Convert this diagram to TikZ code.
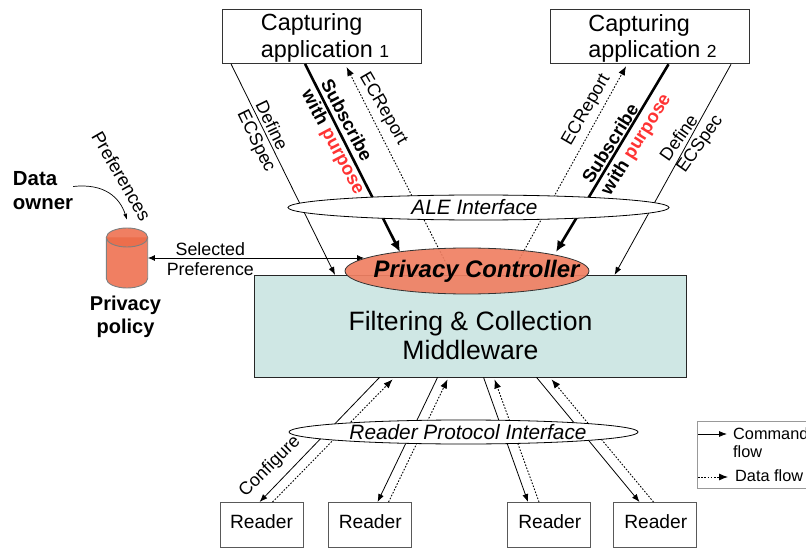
\documentclass[tikz,border=0pt]{standalone}
\usepackage{fontspec}
\setmainfont{Liberation Sans}
\usepackage{tikz}
\usetikzlibrary{arrows.meta,shapes.geometric}

\definecolor{mwfill}{HTML}{CFE7E4}
\definecolor{salmon}{HTML}{F07F62}
\definecolor{salmontop}{HTML}{EC6E4C}
\definecolor{purposered}{HTML}{FF3333}
\newcommand{\fsize}[1]{\fontsize{#1}{#1}\selectfont}

\tikzset{
  appbox/.style={draw=black!80,line width=.9pt,minimum width=199pt,inner xsep=0pt,inner ysep=0pt,minimum height=54pt,align=left,font=\fsize{23.4}},
  readerbox/.style={draw=black!65,line width=.9pt,minimum width=83pt,minimum height=45pt,inner sep=0pt,font=\fsize{19.2},text height=14pt,text depth=8pt},
  iface/.style={ellipse,draw,fill=white,line width=.8pt,inner sep=0pt,font=\itshape\fsize{20.8}},
  lab/.style={align=left,inner sep=0pt,font=\fsize{18}},
  sub/.style={align=left,inner sep=0pt,font=\bfseries\fsize{18.5}},
  cmdflow/.style={line width=.8pt,-{Latex[length=8pt,width=6pt]}},
  dataflow/.style={line width=.9pt,dash pattern=on 1.6pt off 1.6pt,-{Latex[length=9pt,width=7pt]}},
  subflow/.style={line width=2.6pt,-{Latex[length=11pt,width=10pt]}},
}

\begin{document}
\begin{tikzpicture}[x=1pt,y=-1pt]
\clip (0,0) rectangle (806,548);

% boxes
\node[draw=black!85,line width=.9pt,fill=mwfill,minimum width=432pt,minimum height=101.5pt,inner sep=0pt,align=center,font=\fsize{26.6}] (filter) at (470.5,326.2) {\rule{0pt}{38pt}Filtering \& Collection\\[3pt]Middleware};
\node[appbox] (app1) at (322,36.5) {\rule{0pt}{20pt}\hspace*{6pt}Capturing\\[3pt]\hspace*{6pt}application {\fsize{17.5}1}};
\node[appbox] (app2) at (650,36.8) {\rule{0pt}{20pt}\hspace*{5pt}Capturing\\[3pt]\hspace*{5pt}application {\fsize{17.5}2}};
\node[readerbox] (reader1) at (261.5,525) {Reader};
\node[readerbox] (reader2) at (369.5,525) {\hspace*{1.5pt}Reader};
\node[readerbox] (reader3) at (549,525) {\hspace*{1.5pt}Reader};
\node[readerbox] (reader4) at (655,525) {\hspace*{1.5pt}Reader};

% privacy policy
\node[minimum width=41.5pt,minimum height=60pt,inner sep=0pt] (policy) at (127,258) {};
\filldraw[fill=salmon,draw=black!50,line width=.9pt] (106.3,237.5) arc[start angle=180,end angle=0,x radius=20.7pt,y radius=9.5pt] -- (147.7,278.5) arc[start angle=0,end angle=-180,x radius=20.7pt,y radius=9.5pt] -- cycle;
\filldraw[fill=salmontop,draw=black!50,line width=.9pt] (106.3,237.5) arc[start angle=180,end angle=360,x radius=20.7pt,y radius=9.5pt];
\node[align=center,inner sep=0pt,font=\bfseries\fsize{20}] (policytext) at (125.5,317) {Privacy\\[3.5pt]policy};
\node[align=left,inner sep=0pt,font=\bfseries\fsize{20.4}] (owner) at (43,190.5) {Data\\[3pt]owner};
\node[lab,rotate=-60,font=\fsize{18.5}] (prefs) at (121.5,176) {Preferences};
\draw[line width=.7pt,-{Latex[length=6pt,width=4pt]}] ([yshift=4pt]owner.east) .. controls (105,183) and (120,198) .. ([yshift=8pt]policy.north);

% end points on the controller
\coordinate (sub1tip) at (400,252);
\coordinate (sub2tip) at (556,252);
\coordinate (rep1end) at (448,267);
\coordinate (rep2end) at (515,267);
\coordinate (seltip) at (364,258);

% upper connectors
\draw[cmdflow] ([xshift=9pt]app1.south west) -- ([xshift=81pt]filter.north west);
\draw[cmdflow] ([xshift=181pt]app2.south west) -- ([xshift=360.5pt]filter.north west);
\draw[subflow] ([xshift=83pt]app1.south west) -- (sub1tip);
\draw[subflow] ([xshift=118.5pt]app2.south west) -- (sub2tip);
\draw[dataflow] (rep1end) -- ([xshift=124.5pt,yshift=-3pt]app1.south west);
\draw[dataflow] (rep2end) -- ([xshift=76pt,yshift=-2pt]app2.south west);
\draw[line width=.8pt,{Latex[length=7pt,width=6pt]}-{Latex[length=7pt,width=6pt]}] (policy.east) -- (seltip);
\node[align=center,inner sep=0pt,font=\fsize{17.8}] (seltext) at (210.3,259) {Selected\\[2.5pt]Preference};

% lower connectors
\draw[cmdflow] ([xshift=125.5pt]filter.south west) -- ([xshift=40pt]reader1.north west);
\draw[dataflow] ([xshift=53pt]reader1.north west) -- ([xshift=138.5pt,yshift=-2pt]filter.south west);
\draw[cmdflow] ([xshift=183.5pt]filter.south west) -- ([xshift=50pt]reader2.north west);
\draw[dataflow] ([xshift=61pt]reader2.north west) -- ([xshift=193.5pt,yshift=-2pt]filter.south west);
\draw[cmdflow] ([xshift=229.5pt]filter.south west) -- ([xshift=21pt]reader3.north west);
\draw[dataflow] ([xshift=32pt]reader3.north west) -- ([xshift=240.5pt,yshift=-2pt]filter.south west);
\draw[cmdflow] ([xshift=282.5pt]filter.south west) -- ([xshift=26.5pt]reader4.north west);
\draw[dataflow] ([xshift=40.5pt]reader4.north west) -- ([xshift=297.5pt,yshift=-2pt]filter.south west);

% ellipses
\node[ellipse,draw=black!80,line width=.8pt,fill=salmon,fill opacity=.92,minimum width=244pt,minimum height=46pt,inner sep=0pt] (controller) at (467,271) {};
\node[inner sep=0pt,font=\bfseries\itshape\fsize{23.9}] (ctrltext) at (476.5,271.5) {Privacy Controller};
\node[iface,minimum width=381pt,minimum height=25pt] (ale) at (478.5,207.5) {\hspace*{-8pt}ALE Interface};
\node[iface,minimum width=349pt,minimum height=24pt] (rpi) at (463.5,432) {\hspace*{9pt}Reader Protocol Interface};

% labels on the connectors
\node[lab,rotate=-64] (def1) at (264.7,137) {Define\\[2pt]ECSpec};
\node[sub,rotate=-62] (sub1) at (342,137.5) {Subscribe\\[3pt]with \textcolor{purposered}{purpose}};
\node[lab,rotate=-60] (rep1) at (383,109) {ECReport};
\node[lab,rotate=60] (rep2) at (586.5,110) {ECReport};
\node[sub,rotate=58] (sub2) at (627.5,139) {Subscribe\\[3pt]with \textcolor{purposered}{purpose}};
\node[lab,rotate=55] (def2) at (692,138.5) {Define\\[2pt]ECSpec};
\node[lab,rotate=45] (config) at (270,466.5) {Configure};

% legend
\node[draw=black!40,line width=.9pt,minimum width=120pt,minimum height=67pt,inner sep=0pt] (legend) at (757,454.5) {};
\node[align=left,anchor=north west,inner sep=0pt,font=\fsize{16.3}] (cmdtext) at (733,427) {Command\\[2pt]flow};
\node[anchor=west,inner sep=0pt,font=\fsize{16.3}] (datatext) at (735,476) {Data flow};
\coordinate (cmdstart) at (698,434);
\coordinate (cmdend) at (727,434);
\coordinate (datastart) at (698,477);
\coordinate (dataend) at (728,477);
\draw[cmdflow] (cmdstart) -- (cmdend);
\draw[dataflow] (datastart) -- (dataend);
\end{tikzpicture}
\end{document}
